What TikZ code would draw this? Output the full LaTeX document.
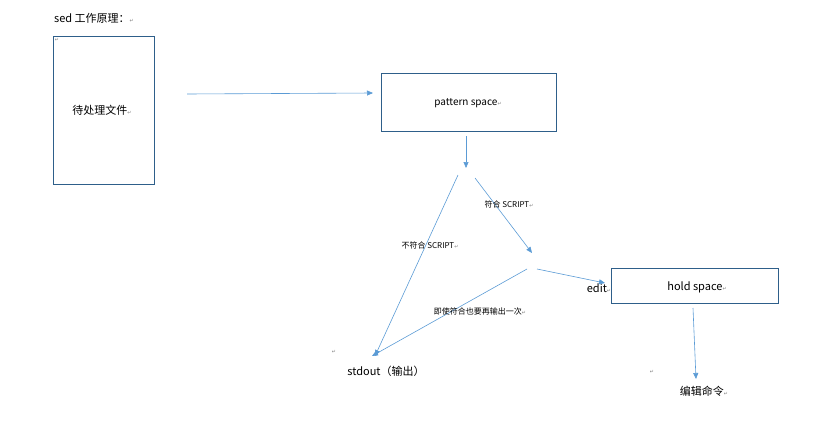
\documentclass[tikz,border=0pt]{standalone}
\usepackage{fontspec}
\setmainfont{Noto Sans CJK SC}
\newfontfamily\symfont{DejaVu Sans}
\newcommand{\retmark}{\textcolor{gray}{\symfont\tiny↵}}
\usetikzlibrary{arrows.meta}
\definecolor{flow}{HTML}{5B9BD5}
\definecolor{frame}{HTML}{2E5F8A}
\tikzset{
  box/.style={draw=frame, thin, minimum width=#1, inner sep=0pt},
  flowline/.style={draw=flow, semithick, -{Triangle[length=6pt,width=5pt]}},
  note/.style={font=\fontsize{8}{9}\selectfont, inner sep=1pt},
  txt/.style={font=\fontsize{11}{13}\selectfont, inner sep=0pt},
  parmark/.style={inner sep=0pt}
}
\begin{document}
\begin{tikzpicture}[x=1pt, y=-1pt]
  \useasboundingbox (0,0) rectangle (814,442);
  % boxes
  \node[box=101pt, minimum height=148pt, anchor=north west] (file) at (53,36) {};
  \node[box=175pt, minimum height=58pt, anchor=north west] (pat) at (381,73) {};
  \node[box=167pt, minimum height=35pt, anchor=north west] (hold) at (611,268) {};
  % texts
  \node[txt, anchor=west] (title) at (54,18) {sed 工作原理：\retmark};
  \node[parmark] (m1) at (57,40) {\retmark};
  \node[txt] (filetxt) at (102,110) {待处理文件\retmark};
  \node[txt, font=\fontsize{10}{12}\selectfont] (pattxt) at (468,103) {pattern space\retmark};
  \node[txt] (holdtxt) at (697,287) {hold space\retmark};
  \node[txt] (edit) at (599,288) {edit\retmark};
  \node[parmark] (m2) at (334,352) {\retmark};
  \node[txt] (out) at (386,371) {stdout（输出）};
  \node[parmark] (m3) at (652,372) {\retmark};
  \node[txt] (cmd) at (704,391) {编辑命令\retmark};
  % connector ends
  \coordinate (a0) at (187,94);
  \coordinate (a1) at (373,93);
  \coordinate (b0) at (466,136);
  \coordinate (b1) at (466,168);
  \coordinate (c0) at (458,175);
  \coordinate (c1) at (375,356);
  \coordinate (d0) at (475,178);
  \coordinate (d1) at (532,253);
  \coordinate (e0) at (537,269);
  \coordinate (e1) at (605,283);
  \coordinate (f0) at (527,269);
  \coordinate (f1) at (372,356);
  \coordinate (g0) at (693,308);
  \coordinate (g1) at (696,379);
  % arrows
  \draw[flowline] (a0) -- (a1);
  \draw[flowline] (b0) -- (b1);
  \draw[flowline] (c0) -- (c1);
  \draw[flowline] (d0) -- (d1);
  \draw[flowline] (e0) -- (e1);
  \draw[flowline] (f0) -- (f1);
  \draw[flowline] (g0) -- (g1);
  % labels
  \node[note] (l1) at (509,204) {符合 SCRIPT\retmark};
  \node[note] (l2) at (430,245) {不符合 SCRIPT\retmark};
  \node[note] (l3) at (480,311) {即使符合也要再输出一次\retmark};
\end{tikzpicture}
\end{document}
